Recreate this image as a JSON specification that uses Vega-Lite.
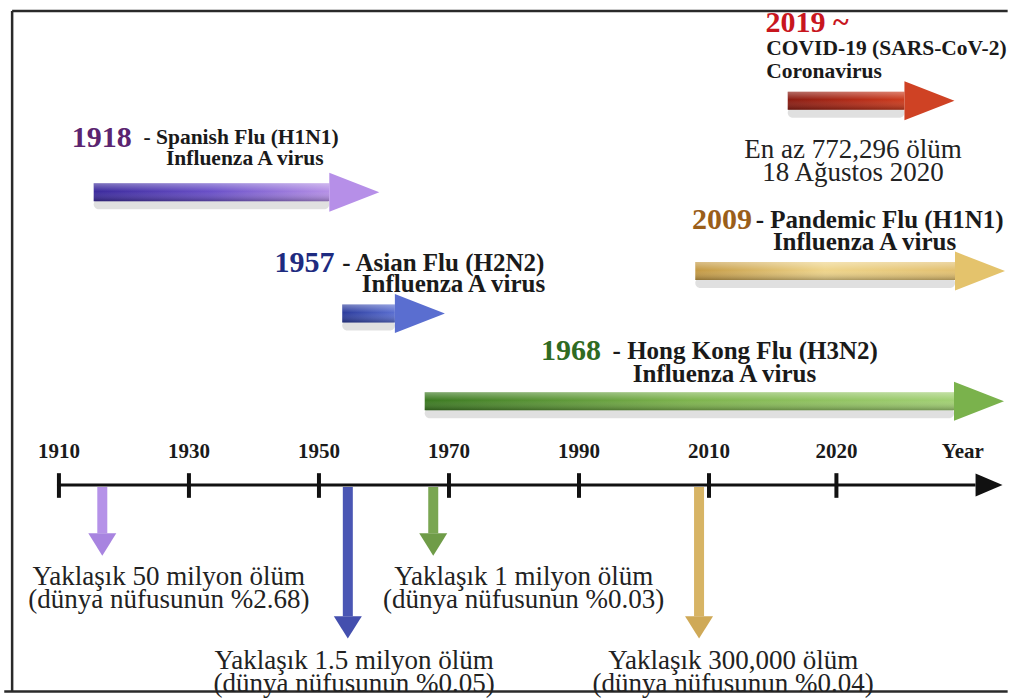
{
  "$schema": "https://vega.github.io/schema/vega-lite/v6.json",
  "width": 1016,
  "height": 698,
  "autosize": {"type": "none"},
  "padding": 0,
  "background": "white",
  "config": {"view": {"stroke": null}},
  "datasets": {
    "frame": [
      {"part": "top", "x": 1902.8, "x2": 2033.44, "y": 0.86, "y2": 0.86},
      {"part": "left", "x": 1902.8, "x2": 1902.8, "y": 0.86, "y2": 99.7},
      {"part": "bottom", "x": 1901.59, "x2": 2033.44, "y": 99.78, "y2": 99.78}
    ],
    "harrows": [
      {"id": "1918", "x": 1915.35, "x2": 1951.59, "y": 27.22},
      {"id": "1957", "x": 1953.58, "x2": 1961.68, "y": 44.84},
      {"id": "1968", "x": 1966.27, "x2": 2029.23, "y": 57.59},
      {"id": "2009", "x": 2007.89, "x2": 2029.31, "y": 38.68},
      {"id": "2019", "x": 2016.18, "x2": 2025.34, "y": 13.9}
    ],
    "varrows": [
      {"id": "1918", "x": 1916.67, "y": 70.06, "y2": 76.79},
      {"id": "1957", "x": 1954.44, "y": 70.06, "y2": 88.83},
      {"id": "1968", "x": 1967.58, "y": 70.06, "y2": 76.79},
      {"id": "2009", "x": 2008.47, "y": 70.06, "y2": 88.83}
    ],
    "timeline": [
      {"x": 1909.7, "x2": 2030.92, "y": 69.77}
    ],
    "ticks": [
      {"x": 1910, "y": 68.05, "y2": 71.63},
      {"x": 1930, "y": 68.05, "y2": 71.63},
      {"x": 1950, "y": 68.05, "y2": 71.63},
      {"x": 1970, "y": 68.05, "y2": 71.63},
      {"x": 1990, "y": 68.05, "y2": 71.63},
      {"x": 2010, "y": 68.05, "y2": 71.63},
      {"x": 2020, "y": 68.05, "y2": 71.63}
    ],
    "texts": [
      {"style": "year", "id": "1918", "text": "1918", "x": 1911.99, "y": 19.34},
      {"style": "year", "id": "1957", "text": "1957", "x": 1943.18, "y": 37.54},
      {"style": "year", "id": "2009", "text": "2009", "x": 2007.4, "y": 31.23},
      {"style": "year", "id": "1968", "text": "1968", "x": 1984.16, "y": 50.29},
      {"style": "year", "id": "2019", "text": "2019 ~", "x": 2014.43, "y": 2.58},
      {"style": "boldLeft", "id": "1918", "text": "- Spanish Flu (H1N1)", "x": 1923.0, "y": 19.34},
      {"style": "boldLeft", "id": "1957", "text": "- Asian Flu (H2N2)", "x": 1953.58, "y": 37.54},
      {"style": "boldLeft", "id": "2009", "text": "- Pandemic Flu (H1N1)", "x": 2013.66, "y": 31.23},
      {"style": "boldLeft", "id": "1968", "text": "- Hong Kong Flu (H3N2)", "x": 1995.17, "y": 50.29},
      {"style": "boldLeft", "id": "2019", "text": "COVID-19 (SARS-CoV-2)", "x": 2014.5, "y": 6.45},
      {"style": "boldLeft", "id": "2019", "text": "Coronavirus", "x": 2014.5, "y": 9.74},
      {"style": "boldCenter", "id": "1918", "text": "Influenza A virus", "x": 1938.59, "y": 22.35},
      {"style": "boldCenter", "id": "1957", "text": "Influenza A virus", "x": 1970.7, "y": 40.54},
      {"style": "boldCenter", "id": "2009", "text": "Influenza A virus", "x": 2022.21, "y": 34.38},
      {"style": "boldCenter", "id": "1968", "text": "Influenza A virus", "x": 2011.22, "y": 53.58},
      {"style": "body", "id": "2019", "text": "En az 772,296 ölüm\n18 Ağustos 2020", "x": 2021.3, "y": 21.06},
      {"style": "body", "id": "1918", "text": "Yaklaşık 50 milyon ölüm\n(dünya nüfusunun %2.68)", "x": 1926.9, "y": 83.1},
      {"style": "body", "id": "1968", "text": "Yaklaşık 1 milyon ölüm\n(dünya nüfusunun %0.03)", "x": 1981.5, "y": 83.1},
      {"style": "body", "id": "1957", "text": "Yaklaşık 1.5 milyon ölüm\n(dünya nüfusunun %0.05)", "x": 1955.4, "y": 95.42},
      {"style": "body", "id": "2009", "text": "Yaklaşık 300,000 ölüm\n(dünya nüfusunun %0.04)", "x": 2011.9, "y": 95.42},
      {"style": "tick", "id": "axis", "text": "1910", "x": 1910, "y": 64.9},
      {"style": "tick", "id": "axis", "text": "1930", "x": 1930, "y": 64.9},
      {"style": "tick", "id": "axis", "text": "1950", "x": 1950, "y": 64.9},
      {"style": "tick", "id": "axis", "text": "1970", "x": 1970, "y": 64.9},
      {"style": "tick", "id": "axis", "text": "1990", "x": 1990, "y": 64.9},
      {"style": "tick", "id": "axis", "text": "2010", "x": 2010, "y": 64.9},
      {"style": "tick", "id": "axis", "text": "2020", "x": 2020, "y": 64.9},
      {"style": "tick", "id": "axis", "text": "Year", "x": 2029.92, "y": 64.9}
    ]
  },
  "encoding": {
    "x": {"field": "x", "type": "quantitative", "axis": null,
          "scale": {"domain": [1901.59, 2010, 2033.44], "range": [0, 709, 1016], "nice": false, "zero": false}},
    "y": {"field": "y", "type": "quantitative", "axis": null,
          "scale": {"domain": [0, 100], "reverse": true, "nice": false, "zero": false}}
  },
  "layer": [
    {
      "data": {"name": "frame"},
      "mark": {"type": "rule", "color": "#2a2a2a", "strokeWidth": 2.5},
      "encoding": {"x2": {"field": "x2"}, "y2": {"field": "y2"}}
    },
    {
      "data": {"name": "harrows"},
      "mark": {"type": "bar", "height": 10, "yOffset": 12, "color": "#666666", "opacity": 0.2, "cornerRadius": 5},
      "encoding": {"x2": {"field": "x2"}}
    },
    {
      "data": {"name": "harrows"},
      "transform": [{"filter": "datum.id === '1918'"}],
      "mark": {"type": "bar", "height": 18, "color": {"gradient": "linear", "x1": 0, "y1": 0, "x2": 1, "y2": 0,
        "stops": [{"offset": 0, "color": "#3b2a9c"}, {"offset": 0.5, "color": "#6a50c8"}, {"offset": 1, "color": "#b590e6"}]}},
      "encoding": {"x2": {"field": "x2"}}
    },
    {
      "data": {"name": "harrows"},
      "transform": [{"filter": "datum.id === '1957'"}],
      "mark": {"type": "bar", "height": 18, "color": {"gradient": "linear", "x1": 0, "y1": 0, "x2": 1, "y2": 0,
        "stops": [{"offset": 0, "color": "#2c3c9c"}, {"offset": 1, "color": "#5a6ed0"}]}},
      "encoding": {"x2": {"field": "x2"}}
    },
    {
      "data": {"name": "harrows"},
      "transform": [{"filter": "datum.id === '1968'"}],
      "mark": {"type": "bar", "height": 18, "color": {"gradient": "linear", "x1": 0, "y1": 0, "x2": 1, "y2": 0,
        "stops": [{"offset": 0, "color": "#3c7a22"}, {"offset": 0.5, "color": "#7eb44e"}, {"offset": 1, "color": "#a2d074"}]}},
      "encoding": {"x2": {"field": "x2"}}
    },
    {
      "data": {"name": "harrows"},
      "transform": [{"filter": "datum.id === '2009'"}],
      "mark": {"type": "bar", "height": 18, "color": {"gradient": "linear", "x1": 0, "y1": 0, "x2": 1, "y2": 0,
        "stops": [{"offset": 0, "color": "#c49a45"}, {"offset": 0.5, "color": "#eed48a"}, {"offset": 1, "color": "#e2c070"}]}},
      "encoding": {"x2": {"field": "x2"}}
    },
    {
      "data": {"name": "harrows"},
      "transform": [{"filter": "datum.id === '2019'"}],
      "mark": {"type": "bar", "height": 18, "color": {"gradient": "linear", "x1": 0, "y1": 0, "x2": 1, "y2": 0,
        "stops": [{"offset": 0, "color": "#8a1c12"}, {"offset": 0.6, "color": "#b42c18"}, {"offset": 1, "color": "#cc3c1e"}]}},
      "encoding": {"x2": {"field": "x2"}}
    },
    {
      "data": {"name": "harrows"},
      "mark": {"type": "bar", "height": 18, "color": {"gradient": "linear", "x1": 0, "y1": 0, "x2": 0, "y2": 1,
        "stops": [{"offset": 0, "color": "rgba(255,255,255,0.35)"}, {"offset": 0.45, "color": "rgba(255,255,255,0)"}, {"offset": 1, "color": "rgba(0,0,0,0.28)"}]}},
      "encoding": {"x2": {"field": "x2"}}
    },
    {
      "data": {"name": "harrows"},
      "mark": {"type": "point", "shape": "M0,-0.78L2,0L0,0.78Z", "size": 2500, "filled": true, "opacity": 1, "strokeWidth": 0},
      "encoding": {
        "x": {"field": "x2", "type": "quantitative", "axis": null,
              "scale": {"domain": [1901.59, 2010, 2033.44], "range": [0, 709, 1016], "nice": false, "zero": false}},
        "color": {"field": "id", "type": "nominal", "legend": null,
                  "scale": {"domain": ["1918", "1957", "1968", "2009", "2019"], "range": ["#b68fe8", "#5a6ed0", "#7ab24c", "#e4c36c", "#cf4224"]}}
      }
    },
    {
      "data": {"name": "varrows"},
      "mark": {"type": "bar", "width": 10},
      "encoding": {
        "y2": {"field": "y2"},
        "color": {"field": "id", "type": "nominal", "legend": null,
                  "scale": {"domain": ["1918", "1957", "1968", "2009"], "range": ["#b592e8", "#4a56b4", "#7aa652", "#d7b465"]}}
      }
    },
    {
      "data": {"name": "varrows"},
      "mark": {"type": "point", "shape": "M-1,0L1,0L0,1.6Z", "size": 784, "filled": true, "opacity": 1, "strokeWidth": 0},
      "encoding": {
        "y": {"field": "y2", "type": "quantitative", "axis": null,
              "scale": {"domain": [0, 100], "reverse": true, "nice": false, "zero": false}},
        "color": {"field": "id", "type": "nominal", "legend": null,
                  "scale": {"domain": ["1918", "1957", "1968", "2009"], "range": ["#a884e0", "#444fae", "#6f9c48", "#cfa957"]}}
      }
    },
    {
      "data": {"name": "timeline"},
      "mark": {"type": "rule", "color": "#111111", "strokeWidth": 3},
      "encoding": {"x2": {"field": "x2"}}
    },
    {
      "data": {"name": "timeline"},
      "mark": {"type": "point", "shape": "M0,-0.85L2,0L0,0.85Z", "size": 729, "filled": true, "opacity": 1, "color": "#111111", "strokeWidth": 0},
      "encoding": {
        "x": {"field": "x2", "type": "quantitative", "axis": null,
              "scale": {"domain": [1901.59, 2010, 2033.44], "range": [0, 709, 1016], "nice": false, "zero": false}}
      }
    },
    {
      "data": {"name": "ticks"},
      "mark": {"type": "rule", "color": "#111111", "strokeWidth": 4},
      "encoding": {"y2": {"field": "y2"}}
    },
    {
      "data": {"name": "texts"},
      "transform": [{"filter": "datum.style === 'tick'"}],
      "mark": {"type": "text", "font": "Liberation Serif", "fontWeight": "bold", "fontSize": 21, "align": "center", "baseline": "middle", "color": "#1a1a1a"},
      "encoding": {"text": {"field": "text"}}
    },
    {
      "data": {"name": "texts"},
      "transform": [{"filter": "datum.style === 'year'"}],
      "mark": {"type": "text", "font": "Liberation Serif", "fontWeight": "bold", "fontSize": 30, "align": "left", "baseline": "middle"},
      "encoding": {
        "text": {"field": "text"},
        "color": {"field": "id", "type": "nominal", "legend": null,
                  "scale": {"domain": ["1918", "1957", "1968", "2009", "2019"], "range": ["#5b2470", "#1e2b80", "#2f6b22", "#9a5e1a", "#c8161e"]}}
      }
    },
    {
      "data": {"name": "texts"},
      "transform": [{"filter": "datum.style === 'boldLeft' && (datum.id === '1918' || datum.id === '2019')"}],
      "mark": {"type": "text", "font": "Liberation Serif", "fontWeight": "bold", "fontSize": 21.5, "align": "left", "baseline": "middle", "color": "#1a1a1a"},
      "encoding": {"text": {"field": "text"}}
    },
    {
      "data": {"name": "texts"},
      "transform": [{"filter": "datum.style === 'boldCenter' && (datum.id === '1918' || datum.id === '2019')"}],
      "mark": {"type": "text", "font": "Liberation Serif", "fontWeight": "bold", "fontSize": 21.5, "align": "center", "baseline": "middle", "color": "#1a1a1a"},
      "encoding": {"text": {"field": "text"}}
    },
    {
      "data": {"name": "texts"},
      "transform": [{"filter": "datum.style === 'boldLeft' && datum.id !== '1918' && datum.id !== '2019'"}],
      "mark": {"type": "text", "font": "Liberation Serif", "fontWeight": "bold", "fontSize": 25, "align": "left", "baseline": "middle", "color": "#1a1a1a"},
      "encoding": {"text": {"field": "text"}}
    },
    {
      "data": {"name": "texts"},
      "transform": [{"filter": "datum.style === 'boldCenter' && datum.id !== '1918' && datum.id !== '2019'"}],
      "mark": {"type": "text", "font": "Liberation Serif", "fontWeight": "bold", "fontSize": 25, "align": "center", "baseline": "middle", "color": "#1a1a1a"},
      "encoding": {"text": {"field": "text"}}
    },
    {
      "data": {"name": "texts"},
      "transform": [{"filter": "datum.style === 'body'"}],
      "mark": {"type": "text", "font": "Liberation Serif", "fontSize": 27, "align": "center", "baseline": "middle", "lineBreak": "\n", "lineHeight": 23, "color": "#222222"},
      "encoding": {"text": {"field": "text"}}
    }
  ],
  "resolve": {"scale": {"color": "independent"}}
}
